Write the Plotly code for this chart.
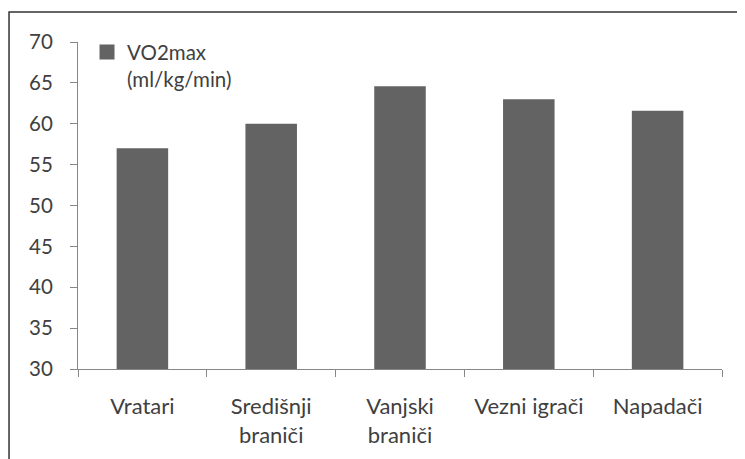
import plotly.graph_objects as go

categories = ["Vratari", "Središnji<br>braniči", "Vanjski<br>braniči", "Vezni igrači", "Napadači"]
vo2max = [57.0, 60.0, 64.6, 63.0, 61.6]
series_name = "VO2max<br>(ml/kg/min)"
y_ticks = [30, 35, 40, 45, 50, 55, 60, 65, 70]

FONT = "Lato"
TEXT = "#404040"
AXIS = "#878787"
BAR = "#636363"

fig = go.Figure()
fig.add_trace(go.Bar(x=categories, y=vo2max, marker=dict(color=BAR, line=dict(width=0)),
                     showlegend=False, name=series_name))
fig.add_trace(go.Scatter(x=[None], y=[None], mode="markers", name=series_name,
                         marker=dict(symbol="square", size=15, color=BAR)))

# the page adds an 8px body margin, so margins are compensated for it
fig.update_layout(
    width=745, height=459,
    margin=dict(l=70, r=31, t=34, b=98, autoexpand=False),
    paper_bgcolor="white", plot_bgcolor="white",
    font=dict(family=FONT, size=20, color=TEXT),
    bargap=0.6,
    showlegend=True,
    legend=dict(x=0.014, y=1.03, xanchor="left", yanchor="top", valign="top",
                bgcolor="rgba(0,0,0,0)", itemsizing="trace",
                font=dict(family=FONT, size=20.5, color=TEXT), tracegroupgap=0),
    xaxis=dict(showline=True, linecolor=AXIS, linewidth=1, ticks="outside",
               tickson="boundaries", ticklen=7, tickcolor=AXIS, showgrid=False,
               automargin=False, ticklabelstandoff=18,
               tickfont=dict(family=FONT, size=22, color=TEXT)),
    yaxis=dict(range=[30, 70], tickvals=y_ticks, showline=True, linecolor=AXIS, linewidth=1,
               ticks="outside", ticklen=7, tickcolor=AXIS, showgrid=False, zeroline=False,
               automargin=False, ticklabelstandoff=13,
               tickfont=dict(family=FONT, size=20.5, color=TEXT)),
)

# outer chart border (partially cropped in the reference)
fig.add_shape(type="rect", xref="paper", yref="paper",
              x0=-0.1071, x1=1.2, y0=-0.5, y1=1.0917,
              line=dict(color="#333333", width=1.5), fillcolor="rgba(0,0,0,0)", layer="below")

fig.write_html("out.html")
